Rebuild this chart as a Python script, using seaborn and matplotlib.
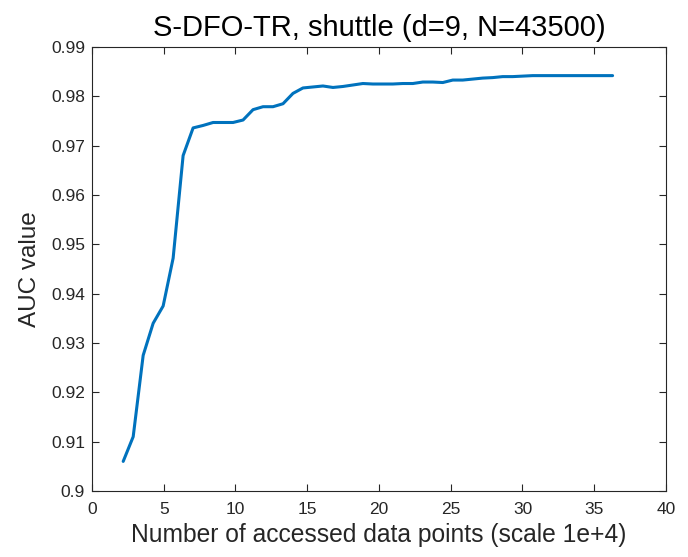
import numpy as np
import pandas as pd
import matplotlib
matplotlib.use("Agg")
import matplotlib.pyplot as plt
import seaborn as sns

# accessed data points (scale 1e4): 0.5N + k*0.16N, N=43500
n_start = 2.175
n_step = 0.696
auc = [0.906, 0.911, 0.9275, 0.934, 0.9375, 0.9472, 0.968, 0.9736, 0.9741, 0.9747,
       0.9747, 0.9747, 0.9752, 0.9773, 0.9779, 0.9779, 0.9785, 0.9806, 0.9817, 0.9819,
       0.9821, 0.9818, 0.9820, 0.9823, 0.9826, 0.9825, 0.9825, 0.9825, 0.9826, 0.9826,
       0.9829, 0.9829, 0.9828, 0.9833, 0.9833, 0.9835, 0.9837, 0.9838, 0.9840, 0.9840,
       0.9841, 0.9842, 0.9842, 0.9842, 0.9842, 0.9842, 0.9842, 0.9842, 0.9842, 0.9842]
x_ticks = [0, 5, 10, 15, 20, 25, 30, 35, 40]
y_ticks = [0.9, 0.91, 0.92, 0.93, 0.94, 0.95, 0.96, 0.97, 0.98, 0.99]
y_tick_labels = ["0.9", "0.91", "0.92", "0.93", "0.94", "0.95", "0.96", "0.97", "0.98", "0.99"]

points = [n_start + n_step * k for k in range(len(auc))]
df = pd.DataFrame({"x": points, "auc": auc})

sns.set_theme(style="white")
plt.rcParams['font.family'] = ['Liberation Sans', 'DejaVu Sans']

fig = plt.figure(figsize=(6.88, 5.57), dpi=100)
ax = fig.add_axes([0.1337, 0.1185, 0.968 - 0.1337, 0.9156 - 0.1185])

sns.lineplot(data=df, x="x", y="auc", ax=ax, color="#0072BD", linewidth=2.2)

ax.set_xlim(0, 40)
ax.set_ylim(0.9, 0.99)
ax.set_xticks(x_ticks)
ax.set_xticklabels([str(t) for t in x_ticks])
ax.set_yticks(y_ticks)
ax.set_yticklabels(y_tick_labels)

dark = "#262626"
for s in ax.spines.values():
    s.set_visible(True)
    s.set_color(dark)
    s.set_linewidth(0.8)
ax.tick_params(direction="in", length=5, width=0.8, colors=dark, labelsize=12.5,
               top=True, right=True, bottom=True, left=True, labelcolor=dark)
ax.tick_params(axis="y", pad=5)
ax.tick_params(axis="x", pad=8)

ax.set_xlabel("Number of accessed data points (scale 1e+4)", fontsize=17.7, color=dark, labelpad=4)
ax.set_ylabel("AUC value", fontsize=17.5, color=dark, labelpad=7)
ax.set_title("S-DFO-TR, shuttle (d=9, N=43500)", fontsize=21, color="black", pad=8)

fig.savefig("out.png", dpi=100)
